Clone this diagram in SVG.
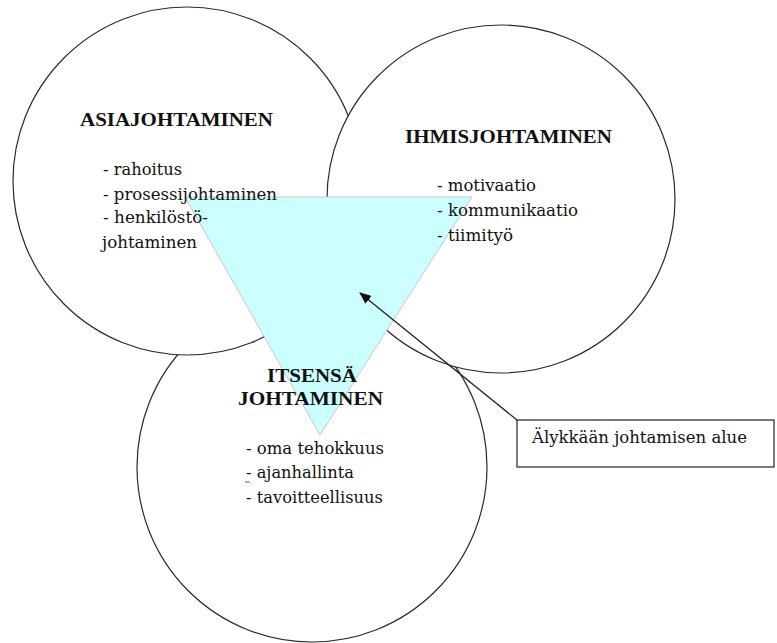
<svg xmlns="http://www.w3.org/2000/svg" width="777" height="643" viewBox="0 0 777 643">
  <style>
    .ring { fill: #ffffff; stroke: #2a2a2a; stroke-width: 1.2; }
    .area { fill: #ccffff; stroke: #c8c8c8; stroke-width: 1; }
    .head { font-family: "Liberation Serif", "Times New Roman", serif; font-weight: bold; font-size: 19px; fill: #111; }
    .item { font-family: "DejaVu Serif", "Liberation Serif", serif; font-size: 16px; fill: #111; }
    .note { fill: #ffffff; stroke: #222; stroke-width: 1.2; }
    .link { stroke: #222; stroke-width: 1.3; fill: none; }
  </style>
  <defs>
    <marker id="arrow" viewBox="0 0 12 10" refX="11" refY="5" markerWidth="12" markerHeight="10" markerUnits="userSpaceOnUse" orient="auto">
      <path d="M0,0 L12,5 L0,10 z" fill="#111"/>
    </marker>
  </defs>

  <!-- circles, stacked bottom → left → right -->
  <g id="itsensa-johtaminen-circle">
    <circle class="ring" cx="312" cy="467" r="175"/>
  </g>
  <g id="asiajohtaminen-circle">
    <circle class="ring" cx="187" cy="181" r="174"/>
  </g>
  <g id="ihmisjohtaminen-circle">
    <circle class="ring" cx="501" cy="199" r="174"/>
  </g>

  <!-- shared area in the middle -->
  <g id="alue-triangle">
    <polygon class="area" points="185,197 472,197 320,435"/>
  </g>

  <!-- labels -->
  <g id="asiajohtaminen">
    <text class="head" x="80" y="126" textLength="193" lengthAdjust="spacingAndGlyphs">ASIAJOHTAMINEN</text>
    <text class="item" x="103" y="175" textLength="79" lengthAdjust="spacingAndGlyphs">- rahoitus</text>
    <text class="item" x="103" y="200" textLength="174" lengthAdjust="spacingAndGlyphs">- prosessijohtaminen</text>
    <text class="item" x="103" y="223" textLength="105" lengthAdjust="spacingAndGlyphs">- henkilöstö-</text>
    <text class="item" x="102" y="248" textLength="95" lengthAdjust="spacingAndGlyphs">johtaminen</text>
  </g>

  <g id="ihmisjohtaminen">
    <text class="head" x="405" y="143" textLength="207" lengthAdjust="spacingAndGlyphs">IHMISJOHTAMINEN</text>
    <text class="item" x="437" y="191" textLength="99" lengthAdjust="spacingAndGlyphs">- motivaatio</text>
    <text class="item" x="437" y="216" textLength="141" lengthAdjust="spacingAndGlyphs">- kommunikaatio</text>
    <text class="item" x="437" y="241" textLength="76" lengthAdjust="spacingAndGlyphs">- tiimityö</text>
  </g>

  <g id="itsensa-johtaminen">
    <text class="head" x="267" y="382" textLength="90" lengthAdjust="spacingAndGlyphs">ITSENSÄ</text>
    <text class="head" x="238" y="405" textLength="145" lengthAdjust="spacingAndGlyphs">JOHTAMINEN</text>
    <text class="item" x="246" y="454" textLength="138" lengthAdjust="spacingAndGlyphs">- oma tehokkuus</text>
    <text class="item" x="246" y="478" textLength="108" lengthAdjust="spacingAndGlyphs">- ajanhallinta</text>
    <path d="M245,481 l1.5,2 l1.5,-2 l1.5,2" fill="none" stroke="#3a9a3a" stroke-width="0.9"/>
    <text class="item" x="246" y="503" textLength="137" lengthAdjust="spacingAndGlyphs">- tavoitteellisuus</text>
  </g>

  <!-- callout -->
  <g id="callout">
    <rect class="note" x="517" y="420" width="257" height="47"/>
    <text class="item" x="532" y="443" textLength="215" lengthAdjust="spacingAndGlyphs">Älykkään johtamisen alue</text>
  </g>

  <g id="connectors">
    <line class="link" x1="517" y1="420" x2="360" y2="293" marker-end="url(#arrow)"/>
  </g>
</svg>
